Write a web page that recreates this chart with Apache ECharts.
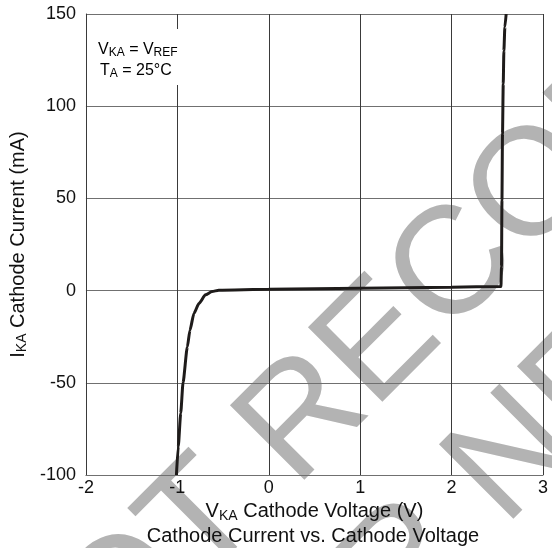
<!DOCTYPE html>
<html>
<head>
<meta charset="utf-8">
<script src="https://cdn.jsdelivr.net/npm/echarts@6/dist/echarts.min.js"></script>
<style>
html,body{margin:0;padding:0;background:#fff;}
#chart{width:552px;height:548px;}
</style>
</head>
<body>
<div id="chart"></div>
<script>
// Cathode voltage V_KA (V)
const voltage = [-1.01, -0.99, -0.963, -0.938, -0.891, -0.862, -0.819, -0.764, -0.692, -0.62, -0.547, 0, 1, 2, 2.54, 2.546, 2.551, 2.557, 2.565, 2.572, 2.583, 2.597];
// Cathode current I_KA (mA)
const current = [-100, -84.6, -66.5, -50, -30.6, -21.5, -12.4, -7, -2.3, -0.5, 0.2, 0.7, 1.3, 1.85, 2.2, 13, 49, 85, 112, 130, 143, 150];
// Axis ranges / ticks
const xRange = [-2, 3, 1];
const yRange = [-100, 150, 50];
// Texts
const titleText = 'Cathode Current vs. Cathode Voltage';
const xName = '{m|V}{s|KA}{m| Cathode Voltage (V)}';
const yName = '{m|I}{s|KA}{m| Cathode Current (mA)}';
const noteLine1 = '{m|V}{s|KA}{m| = V}{s|REF}';
const noteLine2 = '{m|T}{s|A}{m| = 25°C}';
const watermark = ['NOT RECOMMENDED', 'FOR NEW DESIGNS'];

const FONT = '"Liberation Sans", Arial, Helvetica, sans-serif';
const chart = echarts.init(document.getElementById('chart'), null, {renderer: 'canvas'});

const nameRich = {
  m: {fontSize: 20, fontFamily: FONT, color: '#111', lineHeight: 22},
  s: {fontSize: 14, fontFamily: FONT, color: '#111', lineHeight: 8, verticalAlign: 'bottom'}
};
const noteRich = {
  m: {fontSize: 16, fontFamily: FONT, color: '#111', lineHeight: 18},
  s: {fontSize: 12, fontFamily: FONT, color: '#111', lineHeight: 6, verticalAlign: 'bottom'}
};

const WM = 153;
const off = WM * 0.35 * Math.SQRT1_2;

chart.setOption({
  animation: false,
  backgroundColor: '#fff',
  title: {
    text: titleText,
    left: 313,
    top: 526,
    textAlign: 'center',
    padding: 0,
    textStyle: {fontSize: 20, fontWeight: 'normal', fontFamily: FONT, color: '#111'}
  },
  grid: {left: 83, right: 9, top: 14, bottom: 73, containLabel: false},
  xAxis: {
    type: 'value',
    min: xRange[0], max: xRange[1], interval: xRange[2],
    name: xName,
    nameLocation: 'middle',
    nameGap: 25,
    nameTextStyle: {rich: nameRich},
    axisLine: {show: true, onZero: false, lineStyle: {color: '#707070', width: 1}},
    axisTick: {show: false},
    axisLabel: {fontSize: 18, fontFamily: FONT, color: '#111', margin: 4},
    splitLine: {show: true, lineStyle: {color: '#3a3a3a', width: 1}}
  },
  yAxis: {
    type: 'value',
    min: yRange[0], max: yRange[1], interval: yRange[2],
    name: yName,
    nameLocation: 'middle',
    nameGap: 55,
    nameRotate: 90,
    nameTextStyle: {rich: nameRich},
    axisLine: {show: true, onZero: false, lineStyle: {color: '#3a3a3a', width: 1}},
    axisTick: {show: false},
    axisLabel: {fontSize: 18, fontFamily: FONT, color: '#111', margin: 10},
    splitLine: {show: true, lineStyle: {color: '#707070', width: 1}}
  },
  graphic: {
    elements: [
      {type: 'text', z: -10, x: 45 - off, y: 755 - off, rotation: Math.PI / 4,
        style: {text: watermark[0], fill: '#b3b3b3', fontSize: WM, fontFamily: FONT, align: 'left', verticalAlign: 'middle'}},
      {type: 'text', z: -10, x: 254 - off, y: 794 - off, rotation: Math.PI / 4,
        style: {text: watermark[1], fill: '#b3b3b3', fontSize: WM, fontFamily: FONT, align: 'left', verticalAlign: 'middle'}},
      {type: 'rect', z: 5, shape: {x: 90, y: 29, width: 98, height: 56}, style: {fill: '#fff'}},
      {type: 'text', z: 6, x: 98, y: 50, style: {text: noteLine1, rich: noteRich, align: 'left', verticalAlign: 'middle'}},
      {type: 'text', z: 6, x: 100, y: 71, style: {text: noteLine2, rich: noteRich, align: 'left', verticalAlign: 'middle'}}
    ]
  },
  series: [{
    type: 'line',
    data: voltage.map((v, i) => [v, current[i]]),
    showSymbol: false,
    smooth: 0.2,
    smoothMonotone: 'x',
    lineStyle: {color: '#1e1b1a', width: 3},
    z: 3
  }]
});
</script>
</body>
</html>
